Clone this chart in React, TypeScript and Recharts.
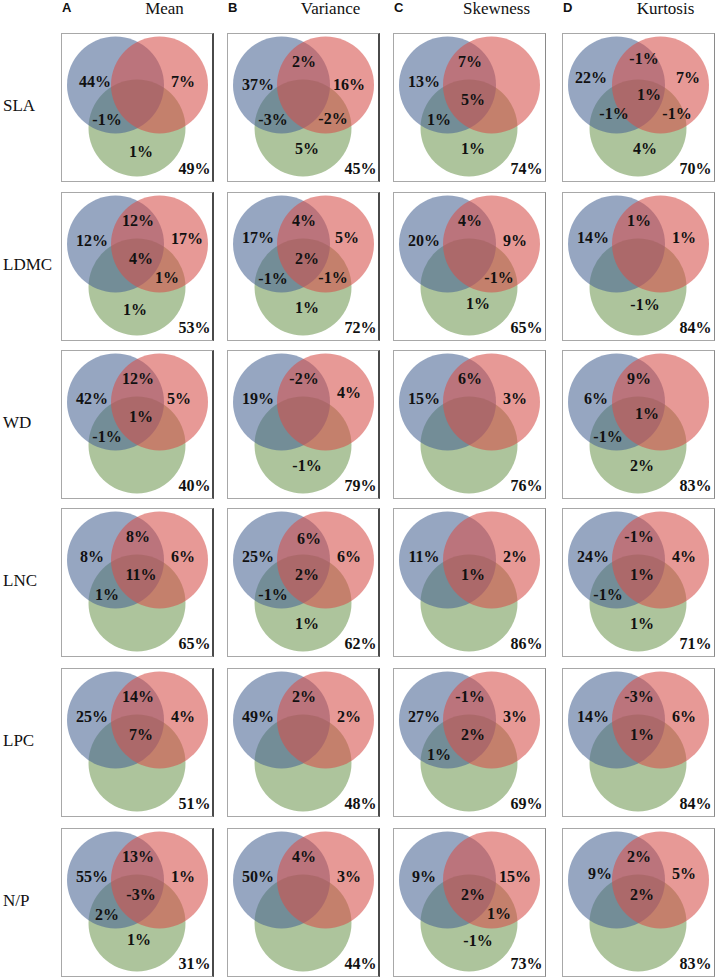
import React from "react";
import { ScatterChart, Scatter, XAxis, YAxis } from "recharts";

// traits (rows) and moments (columns)
const ROWS = ["SLA", "LDMC", "WD", "LNC", "LPC", "N/P"];
const COLUMNS = ["Mean", "Variance", "Skewness", "Kurtosis"];
const PANEL_LETTERS = ["A", "B", "C", "D"];

// region keys: b = blue only, r = red only, g = green only,
// br / bg / rg = pair overlaps, brg = centre, out = unexplained
type Labels = Record<string, string>;

const SLA_VALUES: Labels[] = [
  { b: "44%", r: "7%", bg: "-1%", g: "1%", out: "49%" },
  { br: "2%", b: "37%", r: "16%", bg: "-3%", rg: "-2%", g: "5%", out: "45%" },
  { br: "7%", b: "13%", brg: "5%", bg: "1%", g: "1%", out: "74%" },
  { br: "-1%", b: "22%", r: "7%", brg: "1%", bg: "-1%", rg: "-1%", g: "4%", out: "70%" },
];

const LDMC_VALUES: Labels[] = [
  { br: "12%", b: "12%", r: "17%", brg: "4%", rg: "1%", g: "1%", out: "53%" },
  { br: "4%", b: "17%", r: "5%", brg: "2%", bg: "-1%", rg: "-1%", g: "1%", out: "72%" },
  { br: "4%", b: "20%", r: "9%", rg: "-1%", g: "1%", out: "65%" },
  { br: "1%", b: "14%", r: "1%", g: "-1%", out: "84%" },
];

const WD_VALUES: Labels[] = [
  { br: "12%", b: "42%", r: "5%", brg: "1%", bg: "-1%", out: "40%" },
  { br: "-2%", b: "19%", r: "4%", g: "-1%", out: "79%" },
  { br: "6%", b: "15%", r: "3%", out: "76%" },
  { br: "9%", b: "6%", brg: "1%", bg: "-1%", g: "2%", out: "83%" },
];

const LNC_VALUES: Labels[] = [
  { br: "8%", b: "8%", r: "6%", brg: "11%", bg: "1%", out: "65%" },
  { br: "6%", b: "25%", r: "6%", brg: "2%", bg: "-1%", g: "1%", out: "62%" },
  { b: "11%", r: "2%", brg: "1%", out: "86%" },
  { br: "-1%", b: "24%", r: "4%", brg: "1%", bg: "-1%", g: "1%", out: "71%" },
];

const LPC_VALUES: Labels[] = [
  { br: "14%", b: "25%", r: "4%", brg: "7%", out: "51%" },
  { br: "2%", b: "49%", r: "2%", out: "48%" },
  { br: "-1%", b: "27%", r: "3%", brg: "2%", bg: "1%", out: "69%" },
  { br: "-3%", b: "14%", r: "6%", brg: "1%", out: "84%" },
];

const NP_VALUES: Labels[] = [
  { br: "13%", b: "55%", r: "1%", brg: "-3%", bg: "2%", g: "1%", out: "31%" },
  { br: "4%", b: "50%", r: "3%", out: "44%" },
  { b: "9%", r: "15%", brg: "2%", rg: "1%", g: "-1%", out: "73%" },
  { br: "2%", b: "9%", r: "5%", brg: "2%", out: "83%" },
];

const ALL_VALUES = [SLA_VALUES, LDMC_VALUES, WD_VALUES, LNC_VALUES, LPC_VALUES, NP_VALUES];

// ---- layout ----
const PANEL_W = 153;
const PANEL_H = 149;
const COL_LEFT = [61, 227, 393, 562];
const ROW_TOP = [33, 192, 350, 508, 668, 828];
const SERIF = "'Liberation Serif', 'Times New Roman', serif";

// venn geometry in panel units (domain 0..PANEL_W, 0..PANEL_H, y down)
const RADIUS = 48.5;
const CIRCLES = [
  { x: 76, y: 95, fill: "#729A55" },
  { x: 54.5, y: 52, fill: "#4A6595" },
  { x: 98.5, y: 52, fill: "#D5504A" },
];

const ANCHORS: Record<string, [number, number]> = {
  b: [31, 48],
  r: [122, 48],
  br: [77, 28],
  brg: [80, 66],
  bg: [46, 86],
  rg: [106, 85],
  g: [80, 115],
  out: [133.5, 135],
};

// hand placement of some labels in the original
const NUDGE: Record<string, [number, number]> = {
  "0-0-b": [3, 0],
  "0-0-g": [0, 3],
  "0-1-b": [0, 3],
  "0-1-r": [0, 3],
  "0-3-br": [5, -3],
  "0-3-b": [-2, -4],
  "0-3-r": [4, -4],
  "0-3-brg": [7, -5],
  "0-3-bg": [6, -6],
  "0-3-rg": [9, -5],
  "0-3-g": [3, 0],
  "1-0-r": [4, -2],
  "1-0-g": [-6, 2],
  "1-1-b": [0, -3],
  "1-1-r": [-2, -3],
  "1-2-g": [5, -4],
  "1-3-b": [0, -3],
  "1-3-r": [0, -3],
  "1-3-g": [3, -3],
  "2-0-r": [-4, 0],
  "2-1-r": [0, -6],
  "2-3-brg": [5, -3],
  "2-3-b": [3, 0],
  "3-1-br": [5, 2],
  "5-0-g": [-2, -4],
  "5-2-g": [5, -3],
  "5-3-b": [7, -3],
  "5-3-r": [0, -3],
};

const SCALE = PANEL_W / PANEL_W;

function VennPanel({ labels, row, col }: { labels: Labels; row: number; col: number }) {
  const labelData = Object.entries(labels).map(([region, text]) => {
    const [ax, ay] = ANCHORS[region];
    const [dx, dy] = NUDGE[`${row}-${col}-${region}`] || [0, 0];
    return { x: ax + dx, y: ay + dy, text };
  });

  return (
    <ScatterChart width={PANEL_W} height={PANEL_H} margin={{ top: 0, right: 0, bottom: 0, left: 0 }}>
      <XAxis type="number" dataKey="x" domain={[0, PANEL_W]} hide />
      <YAxis type="number" dataKey="y" domain={[0, PANEL_H]} reversed hide />
      <Scatter
        data={CIRCLES}
        isAnimationActive={false}
        shape={(p: any) => (
          <circle cx={p.cx} cy={p.cy} r={RADIUS * SCALE} fill={p.payload.fill} fillOpacity={0.58} />
        )}
      />
      <Scatter
        data={labelData}
        isAnimationActive={false}
        shape={(p: any) => (
          <text
            x={p.cx}
            y={p.cy}
            textAnchor="middle"
            dominantBaseline="central"
            style={{ fontFamily: SERIF, fontWeight: 700, fontSize: 16 }}
            fill="#111"
          >
            {p.payload.text}
          </text>
        )}
      />
    </ScatterChart>
  );
}

export default function App() {
  return (
    <div
      style={{
        position: "absolute",
        left: 0,
        top: 0,
        width: 717,
        height: 980,
        background: "#fff",
        fontFamily: SERIF,
        color: "#111",
      }}
    >
      {/* column headers */}
      {COLUMNS.map((name, c) => (
        <React.Fragment key={name}>
          <div
            style={{
              position: "absolute",
              left: COL_LEFT[c] + 1,
              top: 0,
              fontFamily: "'Liberation Sans', Arial, sans-serif",
              fontWeight: "bold",
              fontSize: 13,
              lineHeight: "15px",
            }}
          >
            {PANEL_LETTERS[c]}
          </div>
          <div
            style={{
              position: "absolute",
              left: COL_LEFT[c] + PANEL_W / 2 + 27 - 60,
              width: 120,
              textAlign: "center",
              top: -1,
              fontSize: 17,
              lineHeight: "20px",
            }}
          >
            {name}
          </div>
        </React.Fragment>
      ))}

      {/* row labels */}
      {ROWS.map((name, r) => (
        <div
          key={name}
          style={{
            position: "absolute",
            left: 3,
            top: ROW_TOP[r] + PANEL_H / 2 - 12,
            fontSize: 17,
            lineHeight: "20px",
          }}
        >
          {name}
        </div>
      ))}

      {/* panels */}
      {ALL_VALUES.map((rowValues, r) =>
        rowValues.map((labels, c) => (
          <div
            key={`${r}-${c}`}
            style={{
              position: "absolute",
              left: COL_LEFT[c],
              top: ROW_TOP[r],
              width: PANEL_W,
              height: PANEL_H,
            }}
          >
            <VennPanel labels={labels} row={r} col={c} />
            <div
              style={{
                position: "absolute",
                left: 0,
                top: 0,
                width: PANEL_W,
                height: PANEL_H,
                boxSizing: "border-box",
                border: "1px solid #a8a8a8",
                borderRight: c < 2 ? "2px solid #4a4a4a" : "1px solid #8a8a8a",
                pointerEvents: "none",
              }}
            />
          </div>
        ))
      )}
    </div>
  );
}
